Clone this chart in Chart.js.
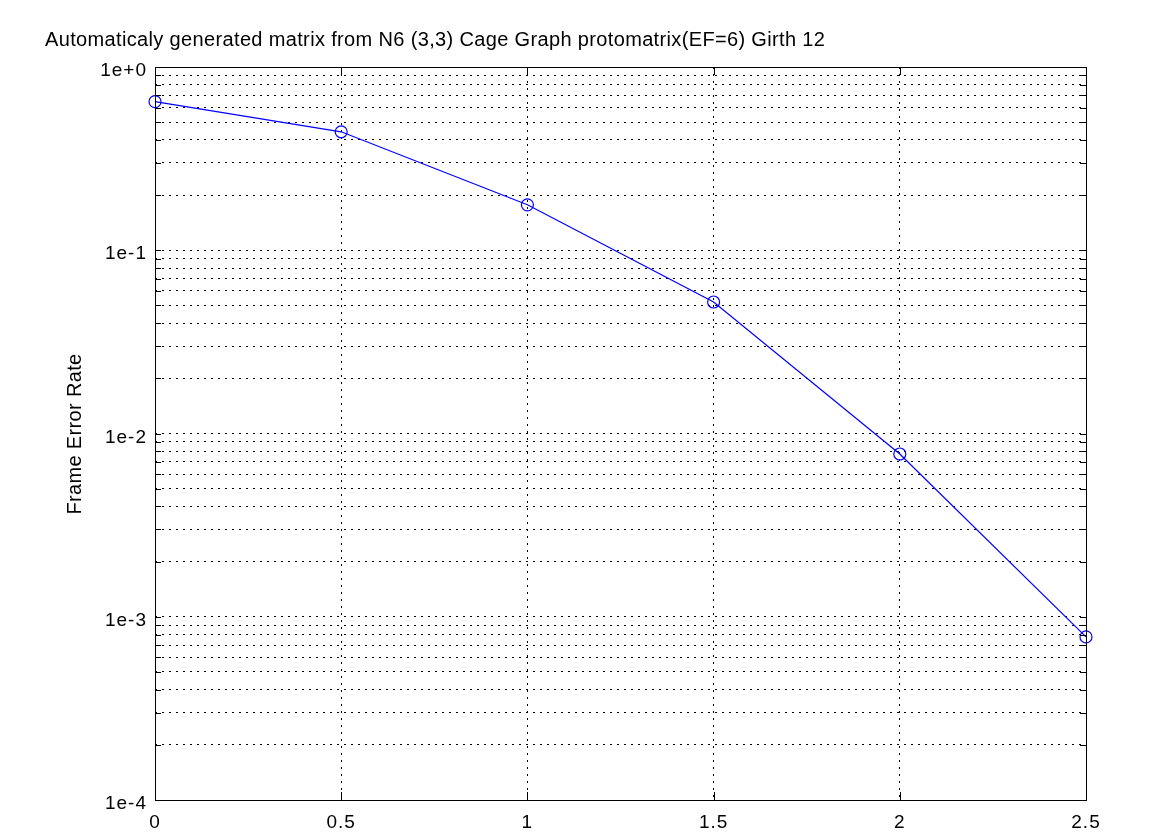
<!DOCTYPE html>
<html><head><meta charset="utf-8">
<script src="https://cdn.jsdelivr.net/npm/chart.js@4/dist/chart.umd.min.js"></script>
<style>html,body{margin:0;padding:0;background:#fff;}#wrap{width:1175px;height:835px;}</style>
</head><body><div id="wrap"><canvas id="c" width="1175" height="835"></canvas></div>
<script>
const titleText = "Automaticaly generated matrix from N6 (3,3) Cage Graph protomatrix(EF=6) Girth 12";
const yTitle = "Frame Error Rate";
const snrValues = [0, 0.5, 1, 1.5, 2, 2.5];
const ferValues = [0.647, 0.443, 0.177, 0.0522, 0.00773, 0.000776];
const xTicks = [0, 0.5, 1, 1.5, 2, 2.5];
const yMajorTicks = [1e-4, 1e-3, 1e-2, 1e-1, 1];
const yTickLabels = ["1e-4", "1e-3", "1e-2", "1e-1", "1e+0"];
const minorMultipliers = [2,3,4,5,6,7,8,9];

const FONT = '"Liberation Sans", Arial, sans-serif';

const frame = {
  id: 'frame',
  beforeDraw(chart){
    const ctx = chart.ctx;
    ctx.save(); ctx.fillStyle='#fff'; ctx.fillRect(0,0,chart.width,chart.height); ctx.restore();
    ctx.letterSpacing = '1px';
  },
  afterDraw(chart){
    const {ctx, chartArea:a, scales} = chart;
    ctx.save();
    ctx.strokeStyle = '#000'; ctx.lineWidth = 1; ctx.setLineDash([]);
    ctx.beginPath();
    scales.y.ticks.forEach(t=>{
      const y = Math.round(scales.y.getPixelForValue(t.value))+0.5;
      ctx.moveTo(a.left, y); ctx.lineTo(a.left+6, y);
      ctx.moveTo(a.right-6, y); ctx.lineTo(a.right, y);
    });
    scales.x.ticks.forEach(t=>{
      const x = Math.round(scales.x.getPixelForValue(t.value))+0.5;
      ctx.moveTo(x, a.bottom); ctx.lineTo(x, a.bottom-8);
      ctx.moveTo(x, a.top); ctx.lineTo(x, a.top+8);
    });
    ctx.stroke();
    ctx.strokeRect(Math.round(a.left)+0.5, Math.round(a.top)+0.5, Math.round(a.right-a.left), Math.round(a.bottom-a.top));
    ctx.fillStyle = '#000';
    ctx.font = '20px ' + FONT;
    ctx.letterSpacing = '0.35px';
    ctx.textAlign = 'left'; ctx.textBaseline = 'middle';
    ctx.fillText(titleText, 45, 40);
    ctx.translate(75, 434);
    ctx.rotate(-Math.PI/2);
    ctx.textAlign = 'center';
    ctx.fillText(yTitle, 0, 0);
    ctx.restore();
  }
};

new Chart(document.getElementById('c'), {
  type: 'line',
  data: {
    datasets: [{
      data: snrValues.map((x,i)=>({x, y: ferValues[i]})),
      borderColor: '#0000ff',
      borderWidth: 1.2,
      pointStyle: 'circle',
      pointRadius: 6,
      pointBorderColor: '#0000ff',
      pointBackgroundColor: 'rgba(0,0,0,0)',
      pointBorderWidth: 1.2,
      tension: 0,
      fill: false,
      clip: false
    }]
  },
  options: {
    responsive: false,
    animation: false,
    layout: { padding: { top: 67, right: 89, left: 0, bottom: 0 } },
    plugins: { legend: { display: false }, tooltip: { enabled: false }, title: { display: false } },
    scales: {
      x: {
        type: 'linear', min: 0, max: 2.5,
        afterBuildTicks: s => { s.ticks = xTicks.map(v=>({value:v})); },
        afterFit: s => { s.height = 35; },
        border: { display: false, dash: [2,5] },
        grid: { color: '#000', lineWidth: 1, drawTicks: false },
        ticks: { color: '#000', font: { family: FONT, size: 19 }, padding: 11, maxRotation: 0, autoSkip: false,
          callback: v => String(v) }
      },
      y: {
        type: 'logarithmic', min: 1e-4, max: 1,
        afterBuildTicks: s => {
          const t = [];
          for (let d = 0; d < yMajorTicks.length; d++) {
            t.push({value: yMajorTicks[d], major: true});
            if (d < yMajorTicks.length - 1) minorMultipliers.forEach(m => t.push({value: yMajorTicks[d]*m}));
          }
          s.ticks = t;
        },
        afterFit: s => { s.width = 155; },
        border: { display: false, dash: [2,5] },
        grid: { color: '#000', lineWidth: 1, drawTicks: false },
        ticks: { color: '#000', font: { family: FONT, size: 19 }, padding: 8, labelOffset: 4, autoSkip: false,
          callback: function(v){ const i = yMajorTicks.findIndex(m => Math.abs(Math.log10(m) - Math.log10(v)) < 1e-6); return i >= 0 ? yTickLabels[i] : ''; } }
      }
    }
  },
  plugins: [frame]
});
</script></body></html>
